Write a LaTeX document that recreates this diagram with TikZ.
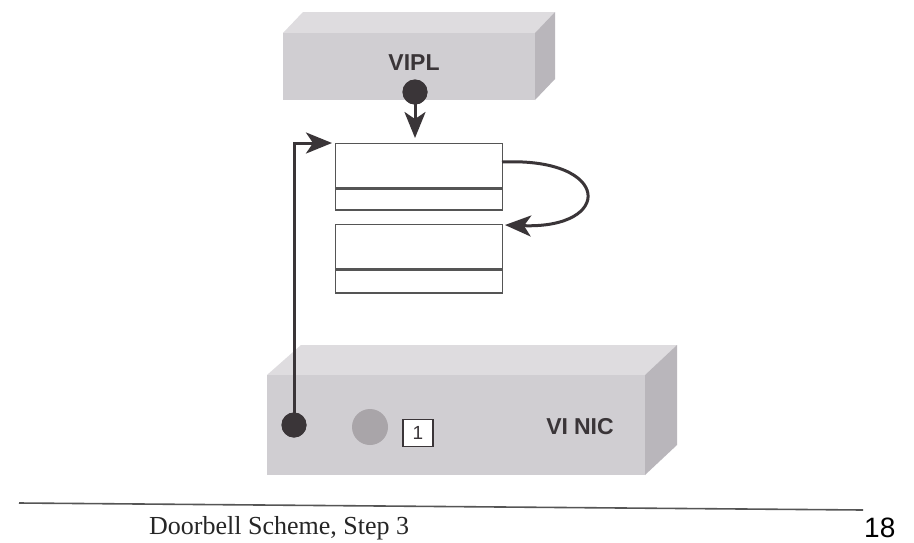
\documentclass[tikz,border=0pt]{standalone}
\usepackage{fontspec}
\setmainfont{Liberation Serif}
\setsansfont{Liberation Sans}
\usetikzlibrary{arrows.meta}
\definecolor{frontc}{HTML}{D0CED2}
\definecolor{topc}{HTML}{DEDCDF}
\definecolor{sidec}{HTML}{B9B6BB}
\definecolor{darkc}{HTML}{3A3538}
\definecolor{edgec}{HTML}{555555}
\definecolor{grayball}{HTML}{A9A5A9}
\tikzset{
  frontface/.style={fill=frontc, draw=none},
  topface/.style={fill=topc, draw=none},
  sideface/.style={fill=sidec, draw=none},
  dotnode/.style={circle, fill=darkc, minimum size=25pt, inner sep=0pt},
  bufpart/.style={rectangle, draw=edgec, line width=1.3pt, fill=white, minimum width=167pt, inner sep=0pt},
  arr/.style={draw=darkc, line width=3pt, -{Stealth[length=26pt,width=21pt,inset=7pt]}},
  boxlabel/.style={font=\sffamily\bfseries\fontsize{23}{27}\selectfont, text=darkc},
}
\begin{document}
\begin{tikzpicture}[x=1pt,y=-1pt]
\useasboundingbox (0,0) rectangle (914,542);
\clip (0,0) rectangle (914,542);
\fill[white] (0,0) rectangle (914,542);

% VIPL block
\fill[topface] (283,33) -- (303,12) -- (555,12) -- (535,33) -- cycle;
\fill[sideface] (535,33) -- (555,12) -- (555,79) -- (535,100) -- cycle;
\fill[frontface] (283,33) rectangle (535,100);
\node[boxlabel] (vipl) at (414,63) {VIPL};
\node[dotnode] (d1) at (415,92) {};

% VI NIC block
\fill[topface] (267,375) -- (301,345) -- (677,345) -- (645,375) -- cycle;
\fill[sideface] (645,375) -- (677,345) -- (677,445) -- (645,475) -- cycle;
\fill[frontface] (267,375) rectangle (645,475);
\node[boxlabel] (nic) at (580,427) {VI\hspace{6pt}NIC};
\node[dotnode] (d2) at (294,425) {};
\node[circle, fill=grayball, minimum size=36pt, inner sep=0pt] (ball) at (370,427) {};
\node[rectangle, draw=darkc, line width=1.2pt, fill=white, minimum width=30pt, minimum height=27pt, inner sep=0pt,
      font=\sffamily\fontsize{19}{22}\selectfont, text=darkc] (one) at (418,433) {1};

% buffers
\node[bufpart, minimum height=44pt, anchor=north west] (b1top) at (335,143) {};
\node[bufpart, minimum height=21pt, anchor=north west] (b1bot) at (b1top.south west) {};
\node[bufpart, minimum height=44pt, anchor=north west] (b2top) at (335,224) {};
\node[bufpart, minimum height=23pt, anchor=north west] (b2bot) at (b2top.south west) {};
\coordinate (c0) at (415,138);
\coordinate (c1) at (502,162);
\coordinate (c2) at (505,225);
\coordinate (c3) at (332,143);

% connectors
\draw[arr] (d1.center) -- (c0);
\draw[arr] (c1) .. controls (612,157) and (614,229) .. (c2);
\draw[arr] (d2.center) |- (c3);
\node[dotnode] at (d2) {};
\node[dotnode] at (d1) {};

% caption
\draw[edgec, line width=1.6pt] (19,503) coordinate (r1) -- (863,510) coordinate (r2);
\node[anchor=base west, inner sep=0pt, font=\fontsize{26}{30}\selectfont, text=black!85] (cap) at (149,534) {Doorbell Scheme, Step 3};
\node[anchor=base west, inner sep=0pt, font=\sffamily\fontsize{28}{32}\selectfont] (pg) at (864,537) {18};
\end{tikzpicture}
\end{document}
